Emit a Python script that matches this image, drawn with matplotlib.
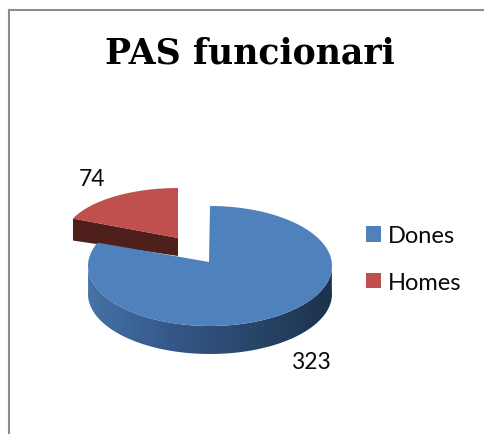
import numpy as np
import matplotlib
matplotlib.use("Agg")
import matplotlib.pyplot as plt
from matplotlib.colors import LinearSegmentedColormap
from matplotlib.patches import Patch, Polygon

title = "PAS funcionari"
labels = ["Dones", "Homes"]
values = [323, 74]
colors = ["#4f81bd", "#c0504d"]

W, H = 484, 435
fig = plt.figure(figsize=(W / 100, H / 100), dpi=100)
ax = fig.add_axes([0, 0, 1, 1])
ax.axis("off")

# slices go clockwise from 12 o'clock
sweep = 360 * np.array(values) / sum(values)
blue_t = np.radians(np.linspace(0, sweep[0], 300))
red_t = np.radians(np.linspace(sweep[0], 360, 100))


def rim(t, cx, cy, rx, ry):
    return cx + rx * np.sin(t), cy - ry * np.cos(t)


# frame
ax.plot([9, 9], [H, 11], color="#8c8c8c", lw=1.5, zorder=1)
ax.plot([9, W], [11, 11], color="#8c8c8c", lw=1.5, zorder=1)

# red slice, pulled out to the upper left
rx, ry = rim(red_t, 178, 239, 114, 50)
ax.fill([rx[0], rx[0], 178, 178], [ry[0], ry[0] + 22, 257, 239], color="#4f1f1c", lw=0, zorder=2)
ax.fill(np.r_[178, rx], np.r_[239, ry], color=colors[1], lw=0, zorder=3)

# blue slice: gradient wall clipped to the rim, then the top face
bx, by = rim(blue_t, 210, 267, 122, 60)
keep = np.cos(blue_t) < 0.05
wall_x, wall_y = bx[keep], by[keep]
outline = Polygon(np.c_[np.r_[wall_x, wall_x[::-1]], np.r_[wall_y, wall_y[::-1] + 28]],
                  transform=ax.transData, facecolor="none", edgecolor="none")
ax.add_patch(outline)
cmap = LinearSegmentedColormap.from_list("wall", ["#4672a6", "#35588a", "#294669", "#1c324e"])
im = ax.imshow(np.linspace(0, 1, 256)[None, :], extent=(88, 333, 360, 260), cmap=cmap, aspect="auto", zorder=4)
im.set_clip_path(outline)
ax.fill(np.r_[209, bx], np.r_[263, by], color=colors[0], lw=0, zorder=5)

ax.set_xlim(0, W)
ax.set_ylim(H, 0)

# value labels
ax.text(92, 180, str(values[1]), family="Lato", fontsize=16.5, ha="center", va="center", color="#0a0a0a", zorder=6)
ax.text(311, 363, str(values[0]), family="Lato", fontsize=16.5, ha="center", va="center", color="#0a0a0a", zorder=6)

ax.text(250, 54, title, family="DejaVu Serif", weight="bold", fontsize=25, ha="center", va="center", color="black")

handles = [Patch(facecolor=c, edgecolor="none", label=l) for c, l in zip(colors, labels)]
ax.legend(handles=handles, loc="upper left", bbox_to_anchor=(366, 226), bbox_transform=ax.transData,
          frameon=False, prop={"family": "Lato", "size": 17}, handlelength=0.64, handleheight=0.64,
          handletextpad=0.3, labelspacing=1.1, borderpad=0, borderaxespad=0, labelcolor="#0a0a0a")

fig.savefig("out.png", dpi=100)
